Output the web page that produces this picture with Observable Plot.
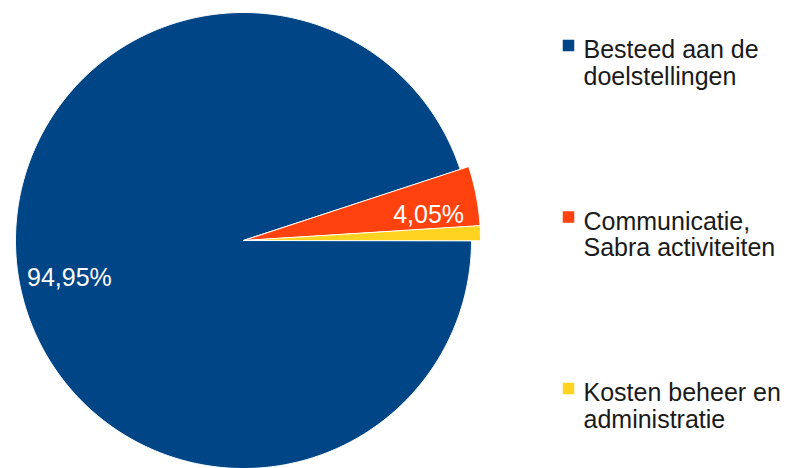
<!DOCTYPE html>
<html>
<head>
<meta charset="utf-8">
<script src="https://cdn.jsdelivr.net/npm/d3@7"></script>
<script src="https://cdn.jsdelivr.net/npm/@observablehq/plot@0.6"></script>
<style>
  html, body { margin: 0; padding: 0; background: #fff; }
  #chart svg { display: block; }
</style>
</head>
<body>
<div id="chart"></div>
<script>
// ---- data ----
const categories = ["Besteed aan de doelstellingen", "Communicatie, Sabra activiteiten", "Kosten beheer en administratie"];
const legendLabels = ["Besteed aan de\ndoelstellingen", "Communicatie,\nSabra activiteiten", "Kosten beheer en\nadministratie"];
const values = [94.95, 4.05, 1.00];
const valueLabels = ["94,95%", "4,05%", ""];
const colors = ["#004586", "#ff420e", "#ffd320"];

// ---- layout (styling constants) ----
const W = 795, H = 468;
const cx = 243, cy = 240;
const radii = [228, 237, 237];     // small slices drawn slightly larger, as in the reference
const labelRadius = 0.8 * 228;
const legendX = 568, legendTextX = 583, legendTop = 39, legendStep = 171.5;
const font = "'Liberation Sans', Arial, sans-serif";

const pie = d3.pie().sort(null).value(d => d.value)
  .startAngle(Math.PI / 2).endAngle(Math.PI / 2 + 2 * Math.PI);
const table = categories.map((c, i) => ({category: c, value: values[i], color: colors[i], label: valueLabels[i], r: radii[i]}));
const arcs = pie(table);

function slicePoints(a) {
  const pts = [{x: cx, y: cy}];
  const n = Math.max(4, Math.ceil((a.endAngle - a.startAngle) / (Math.PI / 360)));
  for (let k = 0; k <= n; k++) {
    const t = a.startAngle + (a.endAngle - a.startAngle) * k / n;
    pts.push({x: cx + a.data.r * Math.sin(t), y: cy - a.data.r * Math.cos(t)});
  }
  return pts;
}

const sliceMarks = arcs.map(a => Plot.line(slicePoints(a), {
  x: "x", y: "y", fill: a.data.color, stroke: "white", strokeWidth: 1, curve: "linear-closed"
}));

const labelData = arcs.filter(a => a.data.label).map(a => {
  const m = (a.startAngle + a.endAngle) / 2;
  return {x: cx + labelRadius * Math.sin(m), y: cy - labelRadius * Math.cos(m), text: a.data.label};
});

const legendData = categories.map((c, i) => ({
  y: legendTop + i * legendStep, text: legendLabels[i], color: colors[i]
}));

const chart = Plot.plot({
  width: W, height: H,
  margin: 0,
  x: {domain: [0, W], range: [0, W], axis: null},
  y: {domain: [0, H], range: [0, H], axis: null},
  style: {fontFamily: font, background: "#fff"},
  marks: [
    ...sliceMarks,
    Plot.text(labelData, {x: "x", y: "y", text: "text", fill: "white", fontSize: 25, dx: 6, dy: 9}),
    Plot.dot(legendData, {x: () => legendX, y: d => d.y + 6, fill: "color", symbol: "square", r: 6.5, stroke: null}),
    Plot.text(legendData, {x: () => legendTextX, y: "y", text: "text", textAnchor: "start", lineAnchor: "top",
      lineHeight: 1.06, fontSize: 25, fill: "#1a1a1a"})
  ]
});
document.getElementById("chart").appendChild(chart);
</script>
</body>
</html>
